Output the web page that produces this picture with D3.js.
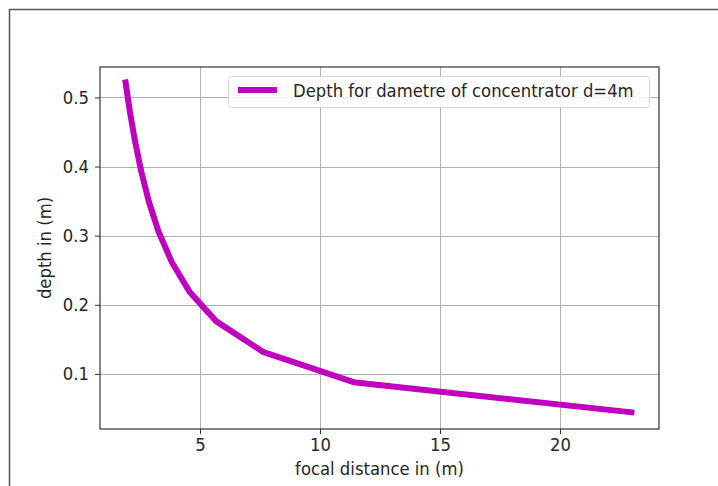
<!DOCTYPE html>
<html><head><meta charset="utf-8">
<script src="https://cdn.jsdelivr.net/npm/d3@7"></script>
<style>html,body{margin:0;padding:0;background:#fff;}svg{display:block;}</style>
</head><body>
<svg id="c" width="718" height="486"></svg>
<script>
// Data
const focal = [1.88, 2.07, 2.29, 2.55, 2.87, 3.27, 3.82, 4.58, 5.68, 7.62, 11.4, 23.1];
const depth = [0.526, 0.481, 0.437, 0.393, 0.349, 0.306, 0.262, 0.218, 0.176, 0.132, 0.088, 0.044];
const xTicks = [5, 10, 15, 20];
const yTicks = [0.1, 0.2, 0.3, 0.4, 0.5];
const xDomain = [0.833, 24.125];
const yDomain = [0.0203, 0.544];
const seriesLabel = "Depth for dametre of concentrator d=4m";
const xLabel = "focal distance in (m)";
const yLabel = "depth in (m)";

const svg = d3.select("#c");
const font = "'DejaVu Sans Condensed','DejaVu Sans',sans-serif";
const fs = 18.3;
const txt = "#262626";

// outer frame
svg.append("path").attr("d","M9.5,486 V9.5 H718").attr("fill","none").attr("stroke","#555").attr("stroke-width",1.5);

const L=100, R=659, T=67, B=429;
const x = d3.scaleLinear().domain(xDomain).range([L,R]);
const y = d3.scaleLinear().domain(yDomain).range([B,T]);

const g = svg.append("g");
// grid
g.selectAll(".gx").data(xTicks).join("line")
  .attr("x1",d=>Math.round(x(d))+0.5).attr("x2",d=>Math.round(x(d))+0.5)
  .attr("y1",T).attr("y2",B).attr("stroke","#b0b0b0").attr("stroke-width",1);
g.selectAll(".gy").data(yTicks).join("line")
  .attr("y1",d=>Math.round(y(d))+0.5).attr("y2",d=>Math.round(y(d))+0.5)
  .attr("x1",L).attr("x2",R).attr("stroke","#b0b0b0").attr("stroke-width",1);

// line
const pts = focal.map((f,i)=>[f,depth[i]]);
g.append("path").datum(pts)
  .attr("d",d3.line().x(d=>x(d[0])).y(d=>y(d[1])))
  .attr("fill","none").attr("stroke","#bf00bf").attr("stroke-width",6)
  .attr("stroke-linejoin","round");

// axes
const xa = svg.append("g").attr("transform",`translate(0,${B})`)
  .call(d3.axisBottom(x).tickValues(xTicks).tickSize(5).tickPadding(4).tickFormat(d3.format("d")));
const ya = svg.append("g").attr("transform",`translate(${L},0)`)
  .call(d3.axisLeft(y).tickValues(yTicks).tickSize(5).tickPadding(6).tickFormat(d3.format(".1f")));
[xa,ya].forEach(a=>{
  a.select(".domain").remove();
  a.selectAll("line").attr("stroke","#333");
  a.selectAll("text").attr("font-family",font).attr("font-size",fs).attr("fill",txt);
});
// spines
svg.append("rect").attr("x",L).attr("y",T).attr("width",R-L).attr("height",B-T)
  .attr("fill","none").attr("stroke","#333").attr("stroke-width",1.2);

// labels
svg.append("text").attr("x",(L+R)/2).attr("y",475).attr("text-anchor","middle")
  .attr("font-family",font).attr("font-size",fs).attr("fill",txt).text(xLabel);
svg.append("text").attr("transform",`translate(51,${(T+B)/2}) rotate(-90)`).attr("text-anchor","middle")
  .attr("font-family",font).attr("font-size",fs).attr("fill",txt).text(yLabel);

// legend
const lg = svg.append("g");
lg.append("rect").attr("x",228.5).attr("y",76.5).attr("width",421).attr("height",31).attr("rx",3)
  .attr("fill","#fff").attr("fill-opacity",0.85).attr("stroke","#d6d6d6");
lg.append("line").attr("x1",238).attr("x2",277).attr("y1",90).attr("y2",90)
  .attr("stroke","#bf00bf").attr("stroke-width",6);
lg.append("text").attr("x",293).attr("y",97).attr("font-family",font).attr("font-size",fs)
  .attr("fill",txt).text(seriesLabel);
</script>
</body></html>
